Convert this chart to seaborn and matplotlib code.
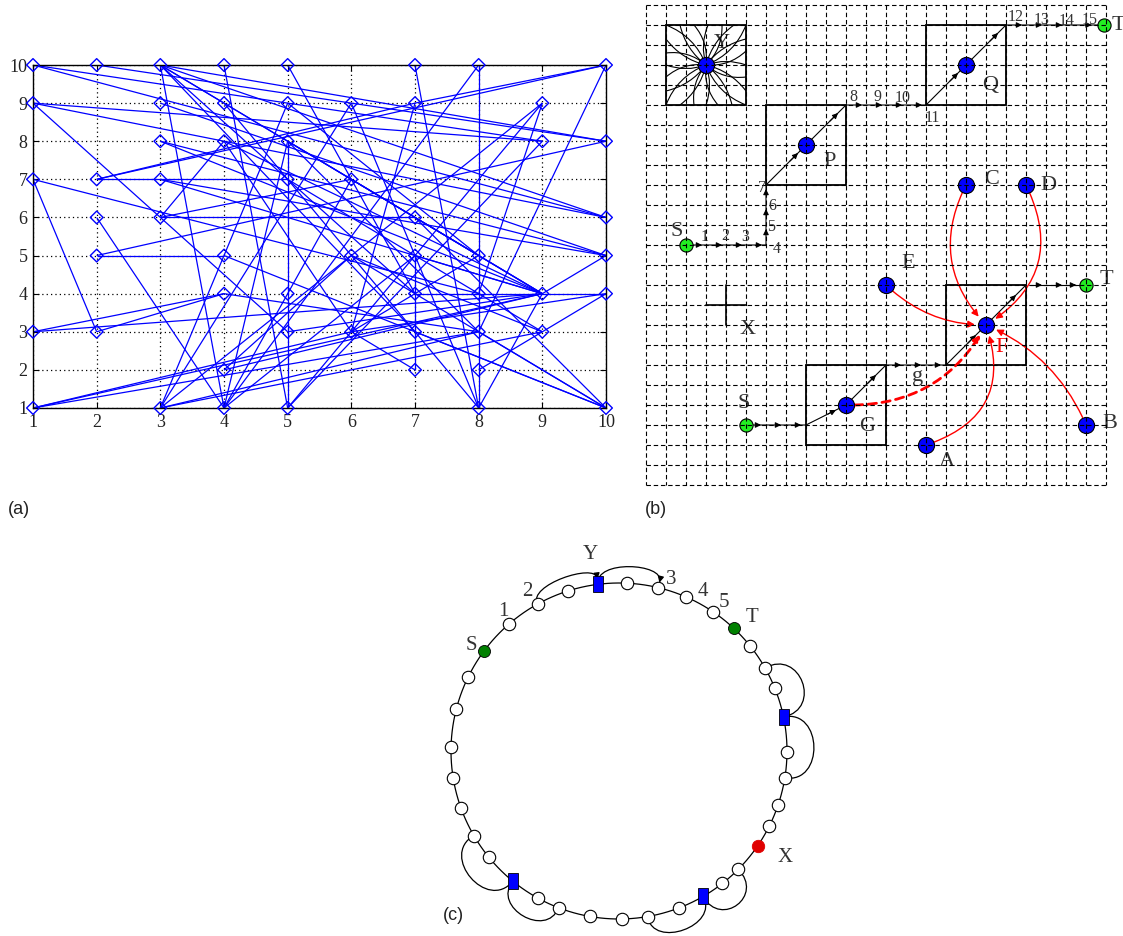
import numpy as np
import matplotlib
matplotlib.use("Agg")
import matplotlib.pyplot as plt
import seaborn as sns
from matplotlib.collections import LineCollection
from matplotlib.patches import Rectangle, FancyArrowPatch
from matplotlib.path import Path

# ---------------- panel (a): random links on a 10 x 10 lattice ----------------
ROW_Y = [10, 9, 8, 7, 6, 5, 4, 3, 2, 1]
ROW_COLUMNS = [
    [1, 2, 3, 4, 5, 7, 8, 10],
    [1, 3, 4, 5, 6, 7, 9],
    [3, 4, 5, 9, 10],
    [1, 2, 3, 5, 6],
    [2, 3, 7, 10],
    [2, 4, 6, 7, 8, 10],
    [4, 5, 7, 8, 9, 10],
    [1, 2, 5, 6, 7, 8, 9],
    [4, 7, 8],
    [1, 3, 4, 5, 8, 10],
]
EDGES = [
    (1, 10, 10, 6), (1, 10, 9, 8), (2, 10, 10, 8), (3, 10, 10, 8), (3, 10, 9, 4),
    (3, 10, 7, 4), (3, 10, 10, 6), (3, 10, 4, 1), (3, 10, 7, 3), (3, 10, 8, 5),
    (4, 10, 5, 1), (5, 10, 7, 4), (7, 10, 8, 1), (8, 10, 8, 1), (8, 10, 4, 1),
    (10, 10, 2, 7), (10, 10, 8, 3), (10, 10, 7, 9),
    (1, 9, 10, 6), (1, 9, 9, 8), (1, 9, 5, 3), (3, 9, 10, 5), (4, 9, 7, 3),
    (5, 9, 8, 5), (6, 9, 3, 1), (6, 9, 8, 1), (7, 9, 2, 7), (7, 9, 6, 3),
    (9, 9, 3, 1), (9, 9, 5, 1), (9, 8, 5, 1),
    (1, 7, 2, 3), (1, 7, 8, 4), (2, 7, 5, 7), (2, 6, 4, 1), (2, 5, 4, 5),
    (2, 5, 10, 8), (2, 3, 4, 4), (1, 3, 4, 4), (1, 3, 9, 4), (1, 1, 6, 3),
    (1, 1, 9, 4), (1, 1, 8, 3),
    (3, 8, 10, 5), (3, 8, 9, 4), (3, 7, 9, 4), (3, 7, 10, 5), (3, 6, 7, 6),
    (3, 6, 6, 7), (3, 6, 4, 8), (4, 8, 9, 4), (4, 8, 6, 3), (5, 8, 9, 4),
    (5, 8, 5, 1), (5, 8, 8, 3),
    (6, 7, 9, 4), (6, 7, 4, 1), (5, 7, 9, 3), (7, 6, 10, 1), (4, 5, 10, 1),
    (4, 4, 8, 3), (4, 2, 9, 4), (4, 2, 6, 5),
    (3, 1, 5, 9), (3, 1, 8, 3), (3, 1, 9, 3), (4, 1, 7, 5), (4, 1, 5, 8),
    (5, 3, 9, 4), (6, 3, 7, 2), (6, 3, 10, 4), (6, 5, 9, 3), (7, 4, 9, 4),
    (7, 5, 7, 2), (7, 3, 10, 1), (7, 3, 8, 1), (8, 3, 10, 1), (8, 2, 10, 4),
    (9, 4, 10, 5), (9, 4, 10, 4), (9, 4, 8, 1), (7, 5, 9, 4), (8, 5, 6, 3),
    (6, 5, 10, 1), (8, 4, 9, 9),
]
TICKS_A = list(range(1, 11))

# ---------------- panel (b): routing on a grid ----------------
GRID_W, GRID_H = 23, 24
BOX_CORNERS = [(1, 1), (6, 5), (14, 1), (15, 14), (8, 18)]
BOX_SIDE = 4
BLUE_NAMES = ["Y", "P", "Q", "C", "D", "E", "F", "G", "A", "B"]
BLUE_X = [3, 8, 16, 16, 19, 12, 17, 10, 14, 22]
BLUE_Y = [3, 7, 3, 9, 9, 14, 16, 20, 22, 21]
GREEN_X = [2, 22.9, 5, 22]
GREEN_Y = [12, 1, 21, 14]
ROUTE_UPPER = [(2, 12), (3, 12), (4, 12), (5, 12), (6, 12), (6, 11), (6, 10), (6, 9),
               (8, 7), (10, 5), (11, 5), (12, 5), (13, 5), (14, 5), (16, 3), (18, 1),
               (19, 1), (20, 1), (21, 1), (22.6, 1)]
ROUTE_LOWER = [(5, 21), (6, 21), (7, 21), (8, 21), (10, 20), (12, 18), (13, 18),
               (14, 18), (15, 18), (17, 16), (19, 14)]
ROUTE_EXIT = [(19.2, 14), (20.2, 14), (21.2, 14), (21.7, 14)]
Y_SPOKE_ENDS = [(1, 1), (1.7, 1), (2.4, 1), (3.1, 1), (3.8, 1), (4.4, 1), (5, 1),
                (5, 1.7), (5, 2.3), (5, 3), (5, 3.6), (5, 4.3),
                (5, 5), (4.3, 5), (3.6, 5), (3, 5), (2.4, 5), (1.7, 5), (1, 5),
                (1, 4.3), (1, 3.6), (1, 3), (1, 2.4), (1, 1.7)]
# red links into F: (source, arc bend, dashed)
RED_LINKS = [("C", 0.35, False), ("D", -0.45, False), ("E", 0.2, False),
             ("A", 0.5, False), ("B", 0.2, False), ("G", 0.3, True)]
X_MARK = (4, 15)
B_LETTERS = [("Y", 3.8, 1.9, "#333333"), ("P", 9.2, 7.8, "#333333"), ("Q", 17.2, 4.0, "#333333"),
             ("C", 17.3, 8.7, "#333333"), ("D", 20.1, 9.0, "#333333"), ("E", 13.1, 12.9, "#333333"),
             ("F", 17.8, 17.1, "red"), ("G", 11.05, 21.05, "#333333"), ("A", 15.05, 22.8, "#333333"),
             ("B", 23.2, 20.9, "#333333"), ("T", 23.0, 13.7, "#333333"), ("T", 23.6, 1.0, "#333333"),
             ("S", 1.55, 11.3, "#333333"), ("S", 4.9, 19.9, "#333333"), ("X", 5.1, 16.25, "#333333"),
             ("g", 13.6, 18.55, "#333333")]
B_NUMBERS = [("1", 2.95, 11.6), ("2", 3.95, 11.55), ("3", 4.95, 11.6), ("4", 6.55, 12.2),
             ("5", 6.25, 11.1), ("6", 6.3, 10.05), ("7", 5.8, 9.15), ("8", 10.35, 4.6),
             ("9", 11.55, 4.6), ("10", 12.85, 4.65), ("11", 14.3, 5.65), ("12", 18.5, 0.6),
             ("13", 19.8, 0.75), ("14", 21.05, 0.8), ("15", 22.2, 0.75)]

# ---------------- panel (c): ring overlay ----------------
PLAIN_ANGLES = [87.3, 76.5, 66.5, 55.8, 38.9, 29.6, 22.1, -0.3, -9.2, -18.6, -26.6,
                -44.8, -52.0, -69.2, -80.2, -89.0, -100.0, -111.1, -118.8, -140.8,
                -149.8, -160.2, -170.8, 178.6, 165.4, 153.7, 130.9, 119.0, 107.6]
HUB_ANGLES = [97.2, 11.7, -60.0, -129.2]
SOURCE_ANGLE = 143.5
TARGET_ANGLE = 47.0
FAILED_ANGLE = -34.4
# shortcut links: (from angle, to angle, bulge, arrow head)
RING_LINKS = [(119.0, 97.2, 0.065, True), (97.2, 76.5, 0.075, True),
              (29.6, 11.7, 0.12, False), (11.7, -9.2, 0.12, False),
              (-44.8, -60.0, 0.11, False), (-60.0, -80.2, 0.1, False),
              (-149.8, -129.2, 0.12, False), (-129.2, -111.1, 0.1, False)]
RING_LABELS = [("Y", 98.4, 1.18), ("1", 129.8, 1.078), ("2", 120.0, 1.094), ("3", 73.1, 1.064),
               ("4", 62.3, 1.075), ("5", 54.8, 1.085), ("T", 45.2, 1.124), ("S", 144.4, 1.083),
               ("X", -32.6, 1.172)]

BLUE = "#0000ff"
SERIF = ["Liberation Serif", "DejaVu Serif"]
SANS = ["Liberation Sans", "DejaVu Sans"]

sns.set_theme(style="white")
plt.rcParams["font.family"] = SERIF

W, H = 1123, 936
fig = plt.figure(figsize=(W / 100, H / 100), dpi=100)
fig.patch.set_facecolor("white")


def axes_at(x0, y0, x1, y1):
    return fig.add_axes([x0 / W, 1 - y1 / H, (x1 - x0) / W, (y1 - y0) / H])


# ======================= (a) =======================
ax = axes_at(33, 65, 606, 408)
node_x = [c for cols in ROW_COLUMNS for c in cols]
node_y = [y for y, cols in zip(ROW_Y, ROW_COLUMNS) for _ in cols]
ax.add_collection(LineCollection([[(a, b), (c, d)] for a, b, c, d in EDGES],
                                 colors=BLUE, linewidths=0.9, zorder=2))
sns.scatterplot(x=node_x, y=node_y, marker="D", s=42, facecolor="none",
                edgecolor=BLUE, linewidth=1.0, ax=ax, zorder=3, clip_on=False, legend=False)
ax.set_xlim(1, 10)
ax.set_ylim(1, 10)
ax.set_xticks(TICKS_A)
ax.set_yticks(TICKS_A)
ax.grid(True, color="black", linestyle=(0, (1, 2.5)), linewidth=0.9)
ax.tick_params(axis="both", direction="in", length=4, width=0.8, color="black",
               labelcolor="#222222", labelsize=13, top=True, right=True,
               bottom=True, left=True, pad=4)
for sp in ax.spines.values():
    sp.set_visible(True)
    sp.set_color("black")
    sp.set_linewidth(1.0)
ax.set_xlabel("")
ax.set_ylabel("")

# ======================= (b) =======================
axb = axes_at(646, 5, 1106, 485)
axb.set_xlim(0, GRID_W)
axb.set_ylim(GRID_H, 0)
axb.axis("off")
axb.vlines(range(GRID_W + 1), 0, GRID_H, colors="black", linewidth=0.8,
           linestyles=(0, (4, 2.5)), zorder=6, clip_on=False)
axb.hlines(range(GRID_H + 1), 0, GRID_W, colors="black", linewidth=0.8,
           linestyles=(0, (4, 2.5)), zorder=6, clip_on=False)

for (bx, by) in BOX_CORNERS:
    axb.add_patch(Rectangle((bx, by), BOX_SIDE, BOX_SIDE, fill=False, ec="black", lw=1.3, zorder=3))

pos = dict(zip(BLUE_NAMES, zip(BLUE_X, BLUE_Y)))

# curved spokes around Y
yc = pos["Y"]
for i, end in enumerate(Y_SPOKE_ENDS):
    rad = 0.22 if i % 2 == 0 else -0.18
    axb.add_patch(FancyArrowPatch(posA=yc, posB=end, arrowstyle="-",
                                  connectionstyle=f"arc3,rad={rad}", lw=0.8,
                                  color="black", zorder=3, shrinkA=0, shrinkB=0))


def draw_route(route, frac):
    xs, ys = zip(*route)
    axb.plot(xs, ys, color="black", lw=0.8, zorder=3, solid_capstyle="butt")
    for p0, p1 in zip(route[:-1], route[1:]):
        p0 = np.array(p0, float)
        p1 = np.array(p1, float)
        d = p1 - p0
        axb.annotate("", xy=tuple(p0 + frac * d), xytext=tuple(p0 + (frac - 0.2) * d),
                     arrowprops=dict(arrowstyle="-|>", color="black", lw=0.8,
                                     mutation_scale=8, shrinkA=0, shrinkB=0), zorder=3)


draw_route(ROUTE_UPPER, 0.8)
draw_route(ROUTE_LOWER, 0.75)
draw_route(ROUTE_EXIT, 0.6)

# red links converging on F
for src, rad, dashed in RED_LINKS:
    axb.add_patch(FancyArrowPatch(posA=pos[src], posB=pos["F"], arrowstyle="-|>",
                                  connectionstyle=f"arc3,rad={rad}",
                                  lw=2.0 if dashed else 1.0,
                                  linestyle=(0, (3, 2)) if dashed else "-",
                                  color="red", mutation_scale=10, zorder=3,
                                  shrinkA=6, shrinkB=8))

# the blocked cell X
axb.plot([X_MARK[0] - 1, X_MARK[0] + 1], [X_MARK[1], X_MARK[1]], color="black", lw=1.2, zorder=3)
axb.plot([X_MARK[0], X_MARK[0]], [X_MARK[1] - 1, X_MARK[1] + 1], color="black", lw=1.2, zorder=3)

sns.scatterplot(x=BLUE_X, y=BLUE_Y, s=135, color="#0000ff", edgecolor="black",
                linewidth=0.8, ax=axb, zorder=5, clip_on=False, legend=False)
sns.scatterplot(x=GREEN_X, y=GREEN_Y, s=90, color="#22ee22", edgecolor="black",
                linewidth=0.8, ax=axb, zorder=5, clip_on=False, legend=False)
axb.set_xlim(0, GRID_W)
axb.set_ylim(GRID_H, 0)

for txt, tx, ty, col in B_LETTERS:
    axb.text(tx, ty, txt, fontsize=16, color=col, ha="center", va="center", zorder=2)
for txt, tx, ty in B_NUMBERS:
    axb.text(tx, ty, txt, fontsize=11.5, color="#333333", ha="center", va="center", zorder=7)

# ======================= (c) =======================
half = 180 / 168
axc = axes_at(439, 571, 799, 931)
axc.set_xlim(-half, half)
axc.set_ylim(-half, half)
axc.axis("off")
theta = np.linspace(0, 2 * np.pi, 400)
axc.plot(np.cos(theta), np.sin(theta), color="black", lw=0.9, zorder=1, clip_on=False)


def unit(a_deg, r=1.0):
    a = np.deg2rad(a_deg)
    return np.array([r * np.cos(a), r * np.sin(a)])


for a0, a1, bulge, head in RING_LINKS:
    p0 = unit(a0)
    p3 = unit(a1, 1.0 if not head else 1.03)
    p1 = unit(a0, 1 + 2 * bulge)
    p2 = unit(a1, 1 + 2 * bulge)
    verts = [tuple(p0), tuple(p1), tuple(p2), tuple(p3)]
    codes = [Path.MOVETO, Path.CURVE4, Path.CURVE4, Path.CURVE4]
    axc.add_patch(FancyArrowPatch(path=Path(verts, codes),
                                  arrowstyle="-|>" if head else "-",
                                  mutation_scale=9, lw=0.9, color="black", zorder=2,
                                  clip_on=False))

plain = np.array([unit(a) for a in PLAIN_ANGLES])
sns.scatterplot(x=plain[:, 0], y=plain[:, 1], s=80, color="white", edgecolor="black",
                linewidth=0.8, ax=axc, zorder=3, clip_on=False, legend=False)
ends = np.array([unit(SOURCE_ANGLE), unit(TARGET_ANGLE)])
sns.scatterplot(x=ends[:, 0], y=ends[:, 1], s=75, color="#008000", edgecolor="black",
                linewidth=0.6, ax=axc, zorder=3, clip_on=False, legend=False)
failed = unit(FAILED_ANGLE)
sns.scatterplot(x=[failed[0]], y=[failed[1]], s=80, color="#e00000", edgecolor="#e00000",
                linewidth=0.6, ax=axc, zorder=3, clip_on=False, legend=False)
rw, rh = 10 / 168, 16 / 168
for a in HUB_ANGLES:
    c = unit(a)
    axc.add_patch(Rectangle((c[0] - rw / 2, c[1] - rh / 2), rw, rh, facecolor="#0000ff",
                            edgecolor="black", lw=0.6, zorder=4, clip_on=False))
axc.set_xlim(-half, half)
axc.set_ylim(-half, half)
for txt, a, r in RING_LABELS:
    p = unit(a, r)
    axc.text(p[0], p[1], txt, fontsize=15, color="#333333", ha="center", va="center")

# panel tags
fig.text(8 / W, 1 - 510 / H, "(a)", fontfamily=SANS, fontsize=13, color="#222222", va="center")
fig.text(645 / W, 1 - 510 / H, "(b)", fontfamily=SANS, fontsize=13, color="#222222", va="center")
fig.text(443 / W, 1 - 916 / H, "(c)", fontfamily=SANS, fontsize=13, color="#222222", va="center")

fig.savefig("out.png", dpi=100, facecolor="white")
